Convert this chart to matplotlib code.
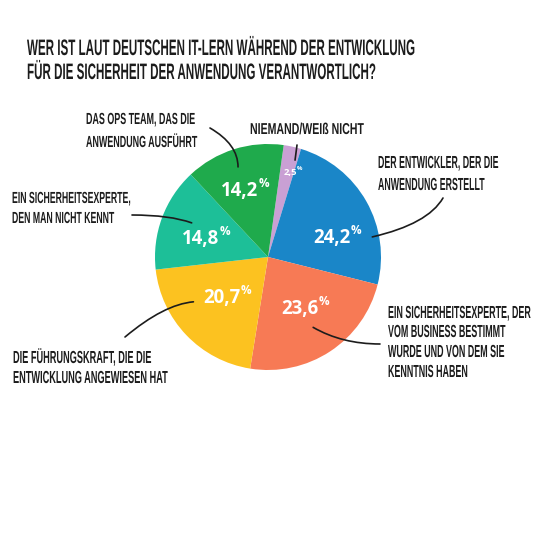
import numpy as np
import matplotlib
matplotlib.use("Agg")
import matplotlib.pyplot as plt
from matplotlib.patheffects import AbstractPathEffect
from matplotlib.transforms import Affine2D

# ---------------- data ----------------
title_lines = ["WER IST LAUT DEUTSCHEN IT-LERN WÄHREND DER ENTWICKLUNG",
               "FÜR DIE SICHERHEIT DER ANWENDUNG VERANTWORTLICH?"]
categories = [
    ["NIEMAND/WEIß NICHT"],
    ["DER ENTWICKLER, DER DIE", "ANWENDUNG ERSTELLT"],
    ["EIN SICHERHEITSEXPERTE, DER", "VOM BUSINESS BESTIMMT",
     "WURDE UND VON DEM SIE", "KENNTNIS HABEN"],
    ["DIE FÜHRUNGSKRAFT, DIE DIE", "ENTWICKLUNG ANGEWIESEN HAT"],
    ["EIN SICHERHEITSEXPERTE,", "DEN MAN NICHT KENNT"],
    ["DAS OPS TEAM, DAS DIE", "ANWENDUNG AUSFÜHRT"],
]
values = [2.5, 24.2, 23.6, 20.7, 14.8, 14.2]
value_labels = ["2,5", "24,2", "23,6", "20,7", "14,8", "14,2"]
colors = ["#c9a0d4", "#1a86c8", "#f77a55", "#fcc220", "#1dbf98", "#1faa4c"]

# ---------------- layout (pixel units, y measured from top) ----------------
W = H = 540
CX, CY, R = 268, 257, 113
INK = "#1c1c1c"
FONT = ["Liberation Sans", "DejaVu Sans"]
NUMFONT = ["Open Sans", "Lato", "DejaVu Sans"]
CAP = 0.716
PX_PER_PT = 100 / 72

label_left = [250, 378, 388, 13, 12, 86]
label_base = [[134], [168, 190], [318, 337, 357, 377], [363, 383], [203, 223], [124, 147]]
label_cap = [11.3, 12.5, 12.5, 12.5, 11.5, 11.5]
label_width = [113, 120, 142, 154, 118, 111]
leader_out = [(297, 145), (443, 198), (380, 344), (125, 337), (132, 215), (210, 128)]
leader_ang = [74.4, 10.9, -57.3, -149.0, 155.9, 108.4]
leader_rf = [0.89, 0.94, 0.74, 0.77, 0.74, 0.84]
leader_conn = ["arc3,rad=0", "angle3,angleA=60,angleB=13", "angle3,angleA=0,angleB=-30",
               "angle3,angleA=40,angleB=5", "angle3,angleA=0,angleB=-20",
               "angle3,angleA=-30,angleB=90"]
pct_dang = [-3.5, -12.5, 3.0, 0.0, 3.0, 1.5]
pct_rf = [0.79, 0.64, 0.55, 0.50, 0.58, 0.63]
pct_fs = [6.8, 13.4, 13.4, 13.4, 13.4, 13.4]


class Stretch(AbstractPathEffect):
    """Stretch glyphs vertically about the baseline (tall, narrow hand-lettering look)."""
    def __init__(self, sy):
        super().__init__()
        self._sy = sy

    def draw_path(self, renderer, gc, tpath, affine, rgbFace=None):
        renderer.draw_path(gc, tpath, Affine2D().scale(1.0, self._sy) + affine, rgbFace)


fig = plt.figure(figsize=(5.4, 5.4), dpi=100, facecolor="white")
ax = fig.add_axes([0, 0, 1, 1])
wedges, _ = ax.pie(values, colors=colors, startangle=82, counterclock=False,
                   center=(CX, H - CY), radius=R, wedgeprops=dict(linewidth=0))
ax.set_xlim(0, W)
ax.set_ylim(0, H)
ax.set_aspect("equal")
ax.set_axis_off()
renderer = fig.canvas.get_renderer()


def text_block(lines, left, baselines, cap_px, target_w, weight="bold"):
    fs0 = 10.0
    texts = [ax.text(left, H - b, s, fontsize=fs0, fontfamily=FONT, fontweight=weight,
                     color=INK, ha="left", va="baseline")
             for s, b in zip(lines, baselines)]
    natural = max(t.get_window_extent(renderer).width for t in texts)
    fs = fs0 * target_w / natural
    sy = cap_px / (CAP * fs * PX_PER_PT)
    for t in texts:
        t.set_fontsize(fs)
        t.set_path_effects([Stretch(sy)])


# title
text_block(title_lines, 27, [55, 79], 16, 386)

# category labels + leader lines
for i, lines in enumerate(categories):
    text_block(lines, label_left[i], label_base[i], label_cap[i], label_width[i])
    a = np.deg2rad(leader_ang[i])
    inner = (CX + leader_rf[i] * R * np.cos(a), H - CY + leader_rf[i] * R * np.sin(a))
    ox, oy = leader_out[i]
    ax.annotate("", xy=inner, xytext=(ox, H - oy),
                arrowprops=dict(arrowstyle="-", color=INK, lw=1.2,
                                connectionstyle=leader_conn[i],
                                shrinkA=0, shrinkB=0))

# percentage labels
for w, lab, dang, rf, fs in zip(wedges, value_labels, pct_dang, pct_rf, pct_fs):
    mid = np.deg2rad((w.theta1 + w.theta2) / 2 + dang)
    cx = CX + rf * R * np.cos(mid)
    cy = H - CY + rf * R * np.sin(mid)
    tn = ax.text(0, 0, lab, fontsize=fs, fontfamily=NUMFONT, fontweight="bold",
                 color="white", ha="left", va="baseline")
    pfs = fs * 0.63
    tp = ax.text(0, 0, "%", fontsize=pfs, fontfamily=NUMFONT, fontweight="bold",
                 color="white", ha="left", va="baseline")
    wn = tn.get_window_extent(renderer).width
    wp = tp.get_window_extent(renderer).width
    dh = 0.714 * fs * PX_PER_PT
    ph = 0.714 * pfs * PX_PER_PT
    x0 = cx - (wn + wp) / 2
    base = cy - dh / 2
    tn.set_position((x0, base))
    tp.set_position((x0 + wn + 0.5, base + dh + 0.3 * dh - ph))

fig.savefig("out.png", dpi=100, facecolor="white")
